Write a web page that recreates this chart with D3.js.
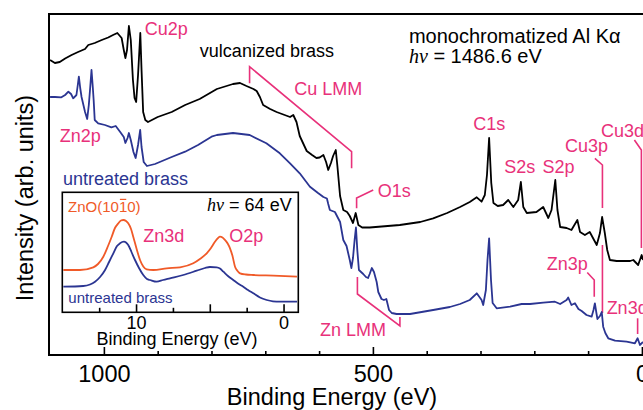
<!DOCTYPE html>
<html>
<head>
<meta charset="utf-8">
<script src="https://cdn.jsdelivr.net/npm/d3@7"></script>
<style>
body { margin: 0; background: #fff; }
svg { display: block; font-family: "Liberation Sans", Arial, Helvetica, sans-serif; }
</style>
</head>
<body>
<svg id="chart"></svg>
<script>
// survey spectra, [binding energy (eV), intensity (arb.)]
var vulcanized = [
    [1100,295],[1091,292],[1082,293],[1072,296.5],[1060,300],[1048,303],[1035,306],[1029,310],[1017,312],
    [1004,315],[992,317.5],[983,320],[975,322],[967,317],[963,305],[960,297],[957,305],[953.5,329],[950,315],
    [946,275],[943,257],[940,253],[936.5,280],[932.3,322],[930,285],[927,243],[923,235],[918,233],[900,238],
    [874,243],[849,250],[822,256],[790,266],[760,271],[747,272],[735,269],[722,266],[716,264],[710,258],
    [704,250],[691,246],[679,243],[664,240],[654,238],[648,240],[642,233],[636,219],[623,204],[613,200],
    [605,197],[599,197.5],[592,200],[587,193],[583,185],[578,192],[574,199],[569,205],[566,189],[561,159],
    [555,145],[548,143],[543,139],[537,132],[532,142],[527,130],[520,127.5],[506,127.5],[450,130],[412,133],
    [388,136.7],[362,142],[338,148],[320,153],[307,157.7],[298,153.3],[292,160],[288,180],[284,217],[280,172],
    [276,152],[268,149],[258,150],[248.5,155],[239,148],[230,155],[225,173],[220.5,148],[214,142],[196,143],
    [183.5,148],[174,137],[168,145],[161,175],[157,145],[152,128],[140,127],[131,125],[120,135],[115,123],
    [106,120],[97,123],[84,110],[78,122],[74,138],[69,122],[64.5,105],[59.5,95],[47,94],[22,94],[16,95],
    [7,90],[0.5,100],[-2,95]
];
var untreated = [
    [1100,258],[1091,258],[1079,257.7],[1072,260],[1066,263.3],[1061,261],[1057,256.7],[1051,260],[1048.5,270],
    [1046.5,278.3],[1044,267],[1041.5,258],[1035,243],[1031,236],[1028,250],[1025.5,267],[1023,285],[1020.5,267],
    [1019,255],[1017,235],[1010.6,231.7],[998,230],[986,227.7],[978,229],[970,223.3],[963,218],[960,212],
    [956,217],[953.5,222],[950,215],[945,203],[941,197],[936.5,210],[932.5,225],[930,208],[926,193],[920,189],
    [905,191],[874,198],[849,203.3],[825,210],[800,218.3],[790,220],[760,222],[729,220],[698,211.7],[673,201.7],
    [654,191.7],[636,181.7],[617,168.3],[602,162],[592,158],[585.5,156.5],[583,151],[580,145],[570.6,143],
    [561,133],[555,115],[549,109],[543,95],[540,87],[537,97],[534,115],[531.5,127.5],[529,105],[526,85],
    [518,81],[513,78],[509,77],[506,81],[502,87],[498,83],[493,73],[490,63],[484,56],[479.5,55],[475,56],
    [470,45],[465,42],[456,41],[431,41],[388,45],[357,48],[338,51],[320,55],[307,61.7],[298,55],[295,50],
    [290,65],[287,95],[284,116.7],[280.5,75],[277.5,52],[270,46.7],[245,48.3],[223.6,51],[208,51],[183.5,52.3],
    [161.7,53.3],[152,51],[140,55],[137,57.5],[131,50],[124.5,51.7],[118,46],[112,44],[103,40],[93.5,38.3],
    [90,45],[87.4,51.7],[84.6,42],[82.7,36],[78,39],[74.7,43],[72,28.3],[68,22],[62.6,16.7],[50,14.3],
    [28.4,13.3],[13,11.7],[8,16.7],[3.7,10],[-2,13]
];

// valence band spectra (inset), hv = 64 eV
var insetZnO = [
    [14.93,42.3],[13.8,42.3],[12.9,45],[12.58,48.3],[12.22,55.6],[11.9,66.3],[11.65,75.6],[11.43,84.3],
    [11.2,89],[11.02,91.8],[10.86,92.3],[10.68,91.3],[10.53,89],[10.34,83.3],[10.19,75.6],[9.96,63.3],
    [9.73,52.3],[9.51,45.8],[9.28,43],[8.83,42.3],[7.92,44],[7.02,45],[6.12,49],[5.67,53.3],[5.21,59],
    [4.92,64.3],[4.65,70.6],[4.44,74.3],[4.31,75.6],[4.14,74.8],[3.97,72.3],[3.77,68.3],[3.63,64],
    [3.46,56.3],[3.29,45.6],[3.12,41.3],[2.95,39],[2.55,37.8],[2.05,37.3],[0.69,36.6],[-0.91,35.6]
];
var insetBrass = [
    [14.93,25.6],[13.58,26.3],[13.12,27.8],[12.78,30.6],[12.44,35.3],[12.1,42.3],[11.83,50.3],[11.54,59],
    [11.29,66.3],[11.09,69],[10.82,70.6],[10.68,69.8],[10.53,67.3],[10.31,60.3],[10.07,52.3],[9.8,44.3],
    [9.51,37.3],[9.26,33.3],[9.05,32.3],[8.6,30.6],[8.17,32.3],[7.7,34],[6.8,37.3],[5.89,41.6],[5.33,44.3],
    [4.99,45.3],[4.53,45],[4.31,43.8],[4.08,40.6],[3.77,36.3],[3.41,32.3],[3.09,28.8],[2.73,25.6],[2.41,22.3],
    [2.05,19],[1.6,14.8],[1.14,12.3],[0.72,11],[0.24,10.6],[-0.91,10.6]
];

var mainMajorTicks = [1000, 500, 0];
var mainMinorTicks = [900, 800, 700, 600, 400, 300, 200, 100];
var insetMajorTicks = [10, 5, 0];
var insetMinorTicks = [12.5, 7.5, 2.5];
var insetTickLabels = [10, 0];

// peak labels: [text, BE, intensity]
var peakLabels = [
    ['Cu2p', 924, 320], ['Cu LMM', 646, 260], ['Zn2p', 1082, 213], ['O1s', 491, 158],
    ['C1s', 313.6, 225], ['S2s', 256, 181.7], ['S2p', 185, 181.7], ['Cu3p', 143, 203.3],
    ['Cu3d', 76, 218.3], ['Zn3p', 177, 85], ['Zn3d', 65.6, 41.5], ['Zn LMM', 598.5, 19]
];
var peakLines = [
    [[729.2,271.7],[729.2,288.3],[539.6,203.3],[539.6,186.7]],
    [[530.3,146.7],[530.3,157],[499.4,165]],
    [[528.8,78],[528.8,61],[449.8,29],[449.8,38]],
    [[87.4,196.7],[73.4,190],[73.4,147]],
    [[73.4,110],[73.4,42]],
    [[14,215],[1,205],[1,107]],
    [[101.6,82.5],[88.6,75],[88.6,58.3]],
    [[8,36.7],[8,21]]
];
var insetPeakLabels = [['Zn3d', 9.51, 70.6], ['O2p', 3.68, 70.6]];

var pink = '#e8317a',
    navy = '#2b3592',
    orange = '#f05a28';

var svg = d3.select('svg#chart')
    .attr('width', 643)
    .attr('height', 410);

var x = d3.scaleLinear().domain([1102, -2]).range([49, 643]),
    y = d3.scaleLinear().domain([0, 341]).range([355, 14]),
    ix = d3.scaleLinear().domain([15, -1]).range([62.3, 298.3]),
    iy = d3.scaleLinear().domain([0, 120]).range([312.3, 192.3]);

svg.append('clipPath').attr('id', 'plotClip')
    .append('rect').attr('x', 49).attr('y', 14).attr('width', 594).attr('height', 341);

var line = d3.line().x(function(d) { return x(d[0]); }).y(function(d) { return y(d[1]); });
var insetLine = d3.line().curve(d3.curveMonotoneX)
    .x(function(d) { return ix(d[0]); }).y(function(d) { return iy(d[1]); });

var plot = svg.append('g').attr('clip-path', 'url(#plotClip)');

plot.selectAll('path.leader')
    .data(peakLines)
    .enter().append('path')
    .attr('class', 'leader')
    .attr('d', line)
    .attr('fill', 'none')
    .attr('stroke', pink)
    .attr('stroke-width', 1.6);

drawSpectrum(plot, vulcanized, '#000');
drawSpectrum(plot, untreated, navy);

plot.selectAll('text.peak')
    .data(peakLabels)
    .enter().append('text')
    .attr('class', 'peak')
    .attr('x', function(d) { return x(d[1]); })
    .attr('y', function(d) { return y(d[2]); })
    .attr('fill', pink)
    .attr('font-size', 18)
    .text(function(d) { return d[0]; });

addText(plot, 'vulcanized brass', x(821.6), y(298), '#000', 18);
addText(plot, 'untreated brass', x(1076), y(170), navy, 18);
addText(plot, 'monochromatized Al K\u03b1', x(433), y(312), '#000', 20);
addHv(plot, x(433), y(292), ' = 1486.6 eV', 20, 'start');

// frame
svg.append('path')
    .attr('d', 'M643,14H49V355H643')
    .attr('fill', 'none')
    .attr('stroke', '#000')
    .attr('stroke-width', 2);

var axisMinor = svg.append('g').attr('transform', 'translate(0,355)')
    .call(d3.axisBottom(x).tickValues(mainMinorTicks).tickSize(-4).tickFormat(''));
var axisMajor = svg.append('g').attr('transform', 'translate(0,355)')
    .call(d3.axisBottom(x).tickValues(mainMajorTicks).tickSize(-8).tickFormat(d3.format('d')));
styleAxis(axisMinor, 23.5, 27);
styleAxis(axisMajor, 23.5, 27);

svg.append('text')
    .attr('x', 332).attr('y', 405)
    .attr('text-anchor', 'middle')
    .attr('font-size', 23.5)
    .text('Binding Energy (eV)');

svg.append('text')
    .attr('transform', 'translate(33,198) rotate(-90)')
    .attr('text-anchor', 'middle')
    .attr('font-size', 23.5)
    .text('Intensity (arb. units)');

// inset
var inset = svg.append('g');
inset.append('rect')
    .attr('x', 62.3).attr('y', 192.3)
    .attr('width', 236).attr('height', 120)
    .attr('fill', '#fff');

inset.append('path').datum(insetZnO)
    .attr('d', insetLine).attr('fill', 'none')
    .attr('stroke', orange).attr('stroke-width', 1.8);
inset.append('path').datum(insetBrass)
    .attr('d', insetLine).attr('fill', 'none')
    .attr('stroke', navy).attr('stroke-width', 1.8);

inset.selectAll('text.ipeak')
    .data(insetPeakLabels)
    .enter().append('text')
    .attr('class', 'ipeak')
    .attr('x', function(d) { return ix(d[1]); })
    .attr('y', function(d) { return iy(d[2]); })
    .attr('fill', pink)
    .attr('font-size', 18)
    .text(function(d) { return d[0]; });

var zno = addText(inset, 'ZnO(1010)', ix(14.61), iy(100.6), orange, 15);
var bar0 = zno.node().getStartPositionOfChar(6),
    bar1 = zno.node().getEndPositionOfChar(6);
inset.append('line')
    .attr('x1', bar0.x + 1).attr('x2', bar1.x - 1)
    .attr('y1', iy(100.6) - 12.3).attr('y2', iy(100.6) - 12.3)
    .attr('stroke', orange).attr('stroke-width', 1.2);
addText(inset, 'untreated brass', ix(14.59), iy(9), navy, 15);
addHv(inset, ix(-0.55), iy(101.3), ' = 64 eV', 18, 'end');

inset.append('rect')
    .attr('x', 62.3).attr('y', 192.3)
    .attr('width', 236).attr('height', 120)
    .attr('fill', 'none')
    .attr('stroke', '#000')
    .attr('stroke-width', 1.6);

var insetMinor = inset.append('g').attr('transform', 'translate(0,312.3)')
    .call(d3.axisBottom(ix).tickValues(insetMinorTicks).tickSize(-4.5).tickFormat(''));
var insetMajor = inset.append('g').attr('transform', 'translate(0,312.3)')
    .call(d3.axisBottom(ix).tickValues(insetMajorTicks).tickSize(-8)
        .tickFormat(function(d) { return insetTickLabels.indexOf(d) >= 0 ? d : ''; }));
styleAxis(insetMinor, 18, 16.7);
styleAxis(insetMajor, 18, 16.7);

inset.append('text')
    .attr('x', 177).attr('y', 345)
    .attr('text-anchor', 'middle')
    .attr('font-size', 18)
    .text('Binding Energy (eV)');

function drawSpectrum(g, data, color) {
    g.append('path').datum(data)
        .attr('d', line)
        .attr('fill', 'none')
        .attr('stroke', color)
        .attr('stroke-width', 1.8)
        .attr('stroke-linejoin', 'round');
}

function addText(g, str, px, py, color, size) {
    return g.append('text')
        .attr('x', px).attr('y', py)
        .attr('fill', color)
        .attr('font-size', size)
        .text(str);
}

function addHv(g, px, py, rest, size, anchor) {
    var t = g.append('text')
        .attr('x', px).attr('y', py)
        .attr('font-size', size)
        .attr('text-anchor', anchor);
    t.append('tspan')
        .attr('font-family', '"Liberation Serif", "Times New Roman", serif')
        .attr('font-style', 'italic')
        .text('h\u03bd');
    t.append('tspan').text(rest);
    return t;
}

function styleAxis(g, size, offset) {
    g.select('.domain').remove();
    g.selectAll('line').attr('stroke', '#000').attr('stroke-width', 1.6);
    g.selectAll('text')
        .attr('y', offset)
        .attr('dy', null)
        .attr('fill', '#000')
        .attr('font-size', size)
        .attr('font-family', '"Liberation Sans", Arial, Helvetica, sans-serif');
}
</script>
</body>
</html>
